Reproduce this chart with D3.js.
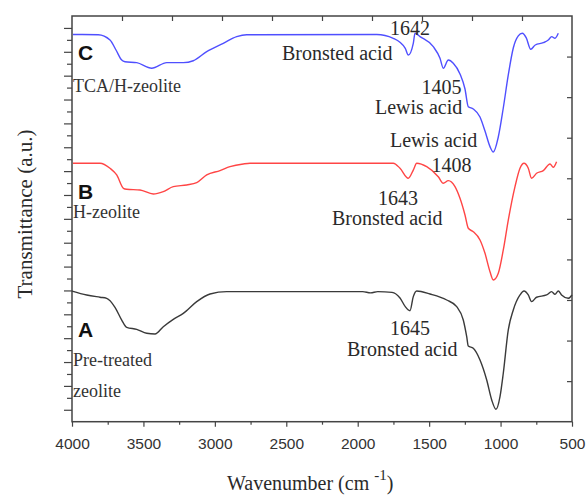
<!DOCTYPE html>
<html>
<head>
<meta charset="utf-8">
<script src="https://cdn.jsdelivr.net/npm/d3@7"></script>
<style>
  body { margin: 0; background: #fff; }
  svg { display: block; }
  .serif { font-family: "Liberation Serif", "Times New Roman", serif; }
  .sans { font-family: "Liberation Sans", Arial, sans-serif; }
</style>
</head>
<body>
<div id="canvas"></div>
<script>
"use strict"

/* FTIR spectra (wavenumber in cm-1, transmittance in a.u.) */
let cWave = [3993, 3816, 3734, 3692, 3652, 3629, 3547, 3442, 3337, 3221, 3151, 3057, 2941, 2847, 2777,
             1867, 1751, 1667, 1646, 1611, 1599, 1564, 1471, 1424, 1401, 1366, 1331, 1284, 1249, 1226,
             1191, 1144, 1109, 1074, 1051, 1016, 981, 946, 911, 876, 848, 820, 789, 757, 701, 666, 642, 619, 596];
let cVal  = [32.45, 32.43, 31.99, 31.15, 30.31, 30.17, 30.09, 29.62, 30.09, 30.09, 30.25, 31.01, 31.71, 32.27, 32.43,
             32.45, 32.13, 31.29, 30.73, 31.71, 32.55, 32.27, 31.43, 30.46, 29.62, 30.31, 30.04, 29.14, 27.88, 26.40,
             26.21, 25.54, 24.36, 23.05, 22.60, 23.86, 26.29, 29.06, 31.32, 32.33, 32.55, 32.16, 31.21, 31.57, 31.76, 31.99, 32.27, 32.13, 32.55];

let bWave = [3993, 3804, 3734, 3687, 3640, 3617, 3524, 3431, 3361, 3291, 3197, 3127, 3057, 2964, 2894, 2801, 2754,
             1751, 1704, 1646, 1611, 1587, 1517, 1436, 1401, 1366, 1319, 1284, 1249, 1226, 1191, 1144, 1109,
             1074, 1051, 1016, 981, 946, 899, 864, 836, 806, 783, 748, 701, 654, 631, 608];
let bVal  = [21.66, 21.66, 21.24, 20.68, 19.56, 19.48, 19.42, 19.08, 19.28, 19.70, 19.84, 20.03, 20.68, 21.04, 21.37, 21.60, 21.66,
             21.66, 21.24, 20.40, 21.09, 21.66, 21.37, 20.53, 19.98, 20.20, 19.70, 18.72, 17.32, 16.21, 15.92, 15.23, 14.11,
             12.57, 11.88, 12.44, 14.39, 16.90, 19.70, 21.24, 21.66, 21.24, 20.40, 20.82, 21.04, 21.60, 21.32, 21.79];

let aWave = [4000, 3897, 3804, 3757, 3699, 3652, 3617, 3547, 3477, 3419, 3361, 3291, 3221, 3127, 3034, 2917,
             1965, 1910, 1860, 1760, 1704, 1667, 1634, 1611, 1587, 1494, 1377, 1307, 1261, 1237, 1226, 1191, 1144,
             1097, 1062, 1032, 1004, 981, 946, 911, 864, 836, 806, 783, 748, 678, 643, 619, 596, 573, 526, 500];
let aVal  = [10.95, 10.62, 10.43, 10.34, 9.59, 8.52, 7.91, 7.74, 7.41, 7.35, 7.96, 8.58, 9.08, 10.06, 10.70, 10.90,
             10.90, 10.80, 10.90, 10.84, 10.37, 9.64, 9.30, 10.48, 10.95, 10.70, 10.20, 9.64, 8.52, 7.12, 6.34, 6.15, 5.17,
             3.49, 1.82, 1.04, 2.10, 4.06, 7.69, 9.36, 10.62, 10.95, 10.62, 10.06, 10.43, 10.62, 10.90, 10.67, 10.95, 10.62, 10.34, 10.62];

let xTicks = [4000, 3500, 3000, 2500, 2000, 1500, 1000, 500];
let xMinorTicks = [3750, 3250, 2750, 2250, 1750, 1250, 750];

let svgWidth = 586;
let svgHeight = 495;
let plotLeft = 72, plotRight = 572, plotTop = 16, plotBottom = 421.7;

let svg = d3.select("#canvas")
    .append("svg")
    .attr("width", svgWidth)
    .attr("height", svgHeight);

/* Scales */
let xScale = d3.scaleLinear().domain([4000, 500]).range([plotLeft, plotRight]);
let yScale = d3.scaleLinear().domain([0, 34]).range([plotBottom, plotTop]);

function cleanAxis(g) {
    g.select(".domain").remove();
    g.selectAll(".tick line").attr("stroke", "#444").attr("stroke-width", 1.2);
}

/* bottom axis, major ticks with labels */
svg.append("g")
   .attr("transform", "translate(0," + plotBottom + ")")
   .call(d3.axisBottom(xScale).tickValues(xTicks).tickSize(5).tickPadding(11).tickFormat(d3.format("d")))
   .call(cleanAxis)
   .call(g => g.attr("font-family", null).attr("font-size", null))
   .call(g => g.selectAll("text")
        .attr("class", "sans")
        .style("font-size", "15.5px")
        .attr("fill", "#333"));

svg.append("g")
   .attr("transform", "translate(0," + plotBottom + ")")
   .call(d3.axisBottom(xScale).tickValues(xMinorTicks).tickSize(3).tickFormat(""))
   .call(cleanAxis);

/* top axis: ticks only, pointing inward */
svg.append("g")
   .attr("transform", "translate(0," + plotTop + ")")
   .call(d3.axisTop(xScale).tickValues(d3.range(3650, 600, -350)).tickSize(-5).tickFormat(""))
   .call(cleanAxis);

/* left axis: alternating long and short ticks */
svg.append("g")
   .attr("transform", "translate(" + plotLeft + ",0)")
   .call(d3.axisLeft(yScale).tickValues(d3.range(1, 34, 2)).tickSize(8).tickFormat(""))
   .call(cleanAxis);

svg.append("g")
   .attr("transform", "translate(" + plotLeft + ",0)")
   .call(d3.axisLeft(yScale).tickValues(d3.range(2, 34, 2)).tickSize(5).tickFormat(""))
   .call(cleanAxis);

/* right axis: ticks pointing inward */
svg.append("g")
   .attr("transform", "translate(" + plotRight + ",0)")
   .call(d3.axisRight(yScale).tickValues(d3.range(1, 10).map(i => i * 3.4)).tickSize(-5).tickFormat(""))
   .call(cleanAxis);

/* frame */
svg.append("rect")
   .attr("x", plotLeft)
   .attr("y", plotTop)
   .attr("width", plotRight - plotLeft)
   .attr("height", plotBottom - plotTop)
   .attr("fill", "none")
   .attr("stroke", "#444")
   .attr("stroke-width", 1.5);

/* spectra */
let line = d3.line()
    .x(d => xScale(d[0]))
    .y(d => yScale(d[1]))
    .curve(d3.curveMonotoneX);

let series = [
    {wave: cWave, val: cVal, color: "#4f4fff"},
    {wave: bWave, val: bVal, color: "#ff4545"},
    {wave: aWave, val: aVal, color: "#3a3a3a"}
];

series.forEach(function(s){
    svg.append("path")
       .datum(d3.zip(s.wave, s.val))
       .attr("d", line)
       .attr("fill", "none")
       .attr("stroke", s.color)
       .attr("stroke-width", 1.4)
       .attr("stroke-linejoin", "round");
});

/* sample letters */
[["C", 60], ["B", 199], ["A", 336.5]].forEach(function(d){
    svg.append("text")
       .attr("class", "sans")
       .attr("x", 78)
       .attr("y", d[1])
       .style("font-weight", "bold")
       .style("font-size", "21px")
       .attr("fill", "#111")
       .text(d[0]);
});

/* sample names */
[["TCA/H-zeolite", 91.5], ["H-zeolite", 218], ["Pre-treated", 366], ["zeolite", 397]].forEach(function(d){
    svg.append("text")
       .attr("class", "serif")
       .attr("x", 73)
       .attr("y", d[1])
       .style("font-size", "18px")
       .attr("fill", "#333")
       .text(d[0]);
});

/* band annotations */
let notes = [
    {t: "1642", x: 390, y: 35},
    {t: "Bronsted acid", x: 282, y: 60},
    {t: "1405", x: 421.5, y: 94},
    {t: "Lewis acid", x: 375, y: 114},
    {t: "Lewis acid", x: 390, y: 146.5},
    {t: "1408", x: 431.5, y: 171.5},
    {t: "1643", x: 378, y: 205},
    {t: "Bronsted acid", x: 332, y: 225},
    {t: "1645", x: 390, y: 335},
    {t: "Bronsted acid", x: 347, y: 356}
];

notes.forEach(function(n){
    svg.append("text")
       .attr("class", "serif")
       .attr("x", n.x)
       .attr("y", n.y)
       .style("font-size", "20px")
       .attr("fill", "#2a2a2a")
       .text(n.t);
});

/* axis titles */
svg.append("text")
   .attr("class", "serif")
   .attr("transform", "rotate(-90)")
   .attr("x", -214)
   .attr("y", 32)
   .attr("text-anchor", "middle")
   .style("font-size", "21px")
   .attr("fill", "#2a2a2a")
   .text("Transmittance (a.u.)");

let xt = svg.append("text")
   .attr("class", "serif")
   .attr("x", 227)
   .attr("y", 490)
   .style("font-size", "20px")
   .attr("fill", "#2a2a2a");
xt.append("tspan").text("Wavenumber (cm");
xt.append("tspan").attr("dx", 5).attr("dy", -10).style("font-size", "15px").text("-1");
xt.append("tspan").attr("dy", 10).text(")");
</script>
</body>
</html>
